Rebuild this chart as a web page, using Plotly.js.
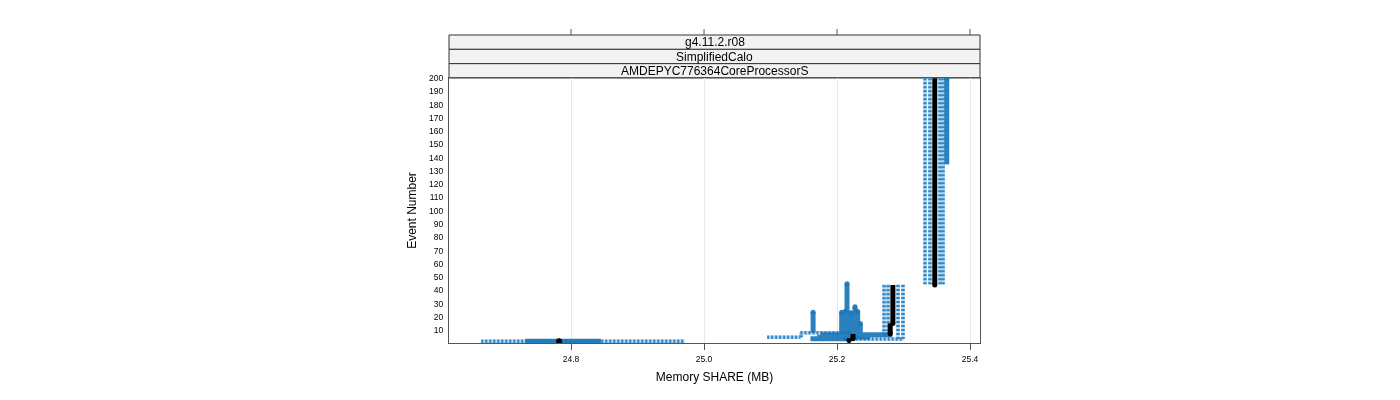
<!DOCTYPE html>
<html>
<head>
<meta charset="utf-8">
<script src="https://cdn.plot.ly/plotly-3.0.1.min.js"></script>
<style>html,body{margin:0;padding:0;background:#fff;}#chart{width:1400px;height:400px;}</style>
</head>
<body>
<div id="chart"></div>
<script>
// ---- data ----
const stripLabels = ["g4.11.2.r08", "SimplifiedCalo", "AMDEPYC776364CoreProcessorS"];
const xTickVals = [24.8, 25.0, 25.2, 25.4];
const xTickText = ["24.8", "25.0", "25.2", "25.4"];
const yTickVals = [10, 20, 30, 40, 50, 60, 70, 80, 90, 100, 110, 120, 130, 140, 150, 160, 170, 180, 190, 200];

// dashed (all-runs spread) horizontal runs: event, x start, x end
const dashH_event = [1.5, 4.6, 8.0, 3.2];
const dashH_x0    = [24.665, 25.095, 25.145, 25.210];
const dashH_x1    = [24.971, 25.145, 25.222, 25.300];
// dashed vertical runs: x, event start, event end
const dashV_x   = [25.146, 25.2707, 25.2767, 25.2917, 25.2992, 25.3323, 25.3398, 25.3549, 25.3594];
const dashV_e0  = [4.6, 6.0, 6.0, 3.2, 3.2, 44.5, 44.5, 44.5, 44.5];
const dashV_e1  = [8.0, 44.5, 44.5, 44.5, 44.5, 200, 200, 200, 200];

// solid blue (individual runs) horizontal runs
const runH_event = [1.5, 3.5, 4.5, 6.5];
const runH_x0    = [24.731, 25.160, 25.170, 25.175];
const runH_x1    = [24.845, 25.215, 25.250, 25.283];
// solid blue vertical runs
const runV_x  = [25.164, 25.207, 25.212, 25.215, 25.221, 25.227, 25.231, 25.235, 25.365];
const runV_e0 = [8.0, 5.0, 5.0, 5.0, 5.0, 5.0, 5.0, 5.0, 135];
const runV_e1 = [23.5, 23.5, 24.0, 45.0, 23.0, 27.5, 24.0, 15.0, 200];

// black (median) vertical runs
const medV_x  = [25.218, 25.224, 25.280, 25.284, 25.347];
const medV_e0 = [2.0, 3.5, 7.0, 15.0, 44.0];
const medV_e1 = [3.5, 7.0, 15.0, 44.0, 200];
// black single points
const medP_x = [24.782];
const medP_e = [1.6];

// ---- build traces ----
function hSeg(ev, x0, x1) {
  const X = [], Y = [];
  for (let i = 0; i < ev.length; i++) { X.push(x0[i], x1[i], null); Y.push(ev[i], ev[i], null); }
  return {X, Y};
}
function vSeg(xs, e0, e1) {
  const X = [], Y = [];
  for (let i = 0; i < xs.length; i++) { X.push(xs[i], xs[i], null); Y.push(e0[i], e1[i], null); }
  return {X, Y};
}
function join(a, b) { return {X: a.X.concat(b.X), Y: a.Y.concat(b.Y)}; }

const dashSeg = join(hSeg(dashH_event, dashH_x0, dashH_x1), vSeg(dashV_x, dashV_e0, dashV_e1));
const runSeg = join(hSeg(runH_event, runH_x0, runH_x1), vSeg(runV_x, runV_e0, runV_e1));
const medSeg = vSeg(medV_x, medV_e0, medV_e1);

const traces = [
  {x: dashSeg.X, y: dashSeg.Y, type: 'scatter', mode: 'lines', hoverinfo: 'skip', showlegend: false,
   line: {color: '#b8d7ee', width: 3.5}},
  {x: dashSeg.X, y: dashSeg.Y, type: 'scatter', mode: 'lines', hoverinfo: 'skip', showlegend: false,
   line: {color: '#2f87c8', width: 3.5, dash: '2px,2px'}},
  {x: runSeg.X, y: runSeg.Y, type: 'scatter', mode: 'lines', hoverinfo: 'skip', showlegend: false,
   line: {color: '#1877b8', width: 5}, opacity: 0.92},
  {x: runV_x, y: runV_e1, type: 'scatter', mode: 'markers', hoverinfo: 'skip', showlegend: false,
   marker: {color: '#1877b8', size: 5}, opacity: 0.92},
  {x: medSeg.X, y: medSeg.Y, type: 'scatter', mode: 'lines', hoverinfo: 'skip', showlegend: false,
   line: {color: '#000000', width: 5}},
  {x: medV_x, y: medV_e0, type: 'scatter', mode: 'markers', hoverinfo: 'skip', showlegend: false,
   marker: {color: '#000000', size: 5}},
  {x: medP_x, y: medP_e, type: 'scatter', mode: 'markers', hoverinfo: 'skip', showlegend: false,
   marker: {color: '#000000', size: 6}}
];

// ---- strips & top ticks ----
const H = 265; // plot height in px
const px2p = v => v / H;
const shapes = [];
const annotations = [];
const stripH = 43 / 3;
for (let i = 0; i < stripLabels.length; i++) {
  const yTop = 1 + px2p(43 - i * stripH);
  const yBot = 1 + px2p(43 - (i + 1) * stripH);
  shapes.push({type: 'rect', xref: 'paper', yref: 'paper', x0: 0, x1: 1, y0: yBot, y1: yTop,
    fillcolor: '#f2f2f2', line: {color: '#333333', width: 1}, layer: 'below'});
  annotations.push({xref: 'paper', yref: 'paper', x: 0.5, y: (yTop + yBot) / 2, text: stripLabels[i],
    showarrow: false, xanchor: 'center', yanchor: 'middle',
    font: {family: 'Liberation Sans, Arial, sans-serif', size: 12, color: '#000'}});
}
for (const t of xTickVals) {
  shapes.push({type: 'line', xref: 'x', yref: 'paper', x0: t, x1: t, y0: 1 + px2p(43), y1: 1 + px2p(49),
    line: {color: '#555555', width: 1}});
}

const layout = {
  width: 1400, height: 400,
  margin: {l: 449, r: 420, t: 78, b: 57, pad: 0},
  paper_bgcolor: '#ffffff', plot_bgcolor: '#ffffff',
  font: {family: 'Liberation Sans, Arial, sans-serif', color: '#000'},
  showlegend: false,
  xaxis: {
    range: [24.6165, 25.415], tickvals: xTickVals, ticktext: xTickText,
    ticks: 'outside', ticklen: 6, tickcolor: '#555555', tickwidth: 1,
    showgrid: true, gridcolor: '#e8e8e8', gridwidth: 1, zeroline: false,
    showline: true, mirror: true, linecolor: '#555555', linewidth: 1,
    tickfont: {size: 8.5, family: 'Liberation Sans, Arial, sans-serif'},
    ticklabelstandoff: 2,
    title: {text: 'Memory SHARE (MB)', standoff: 9, font: {size: 12, family: 'Liberation Sans, Arial, sans-serif'}},
    automargin: false
  },
  yaxis: {
    range: [0.2, 200.2], tickvals: yTickVals, ticks: '',
    showgrid: false, zeroline: false,
    showline: true, mirror: true, linecolor: '#555555', linewidth: 1,
    tickfont: {size: 8.5, family: 'Liberation Sans, Arial, sans-serif'},
    ticklabelstandoff: 3,
    title: {text: 'Event Number', standoff: 9, font: {size: 12, family: 'Liberation Sans, Arial, sans-serif'}},
    automargin: false
  },
  shapes: shapes,
  annotations: annotations
};

Plotly.newPlot('chart', traces, layout, {displayModeBar: false, staticPlot: true});
</script>
</body>
</html>
